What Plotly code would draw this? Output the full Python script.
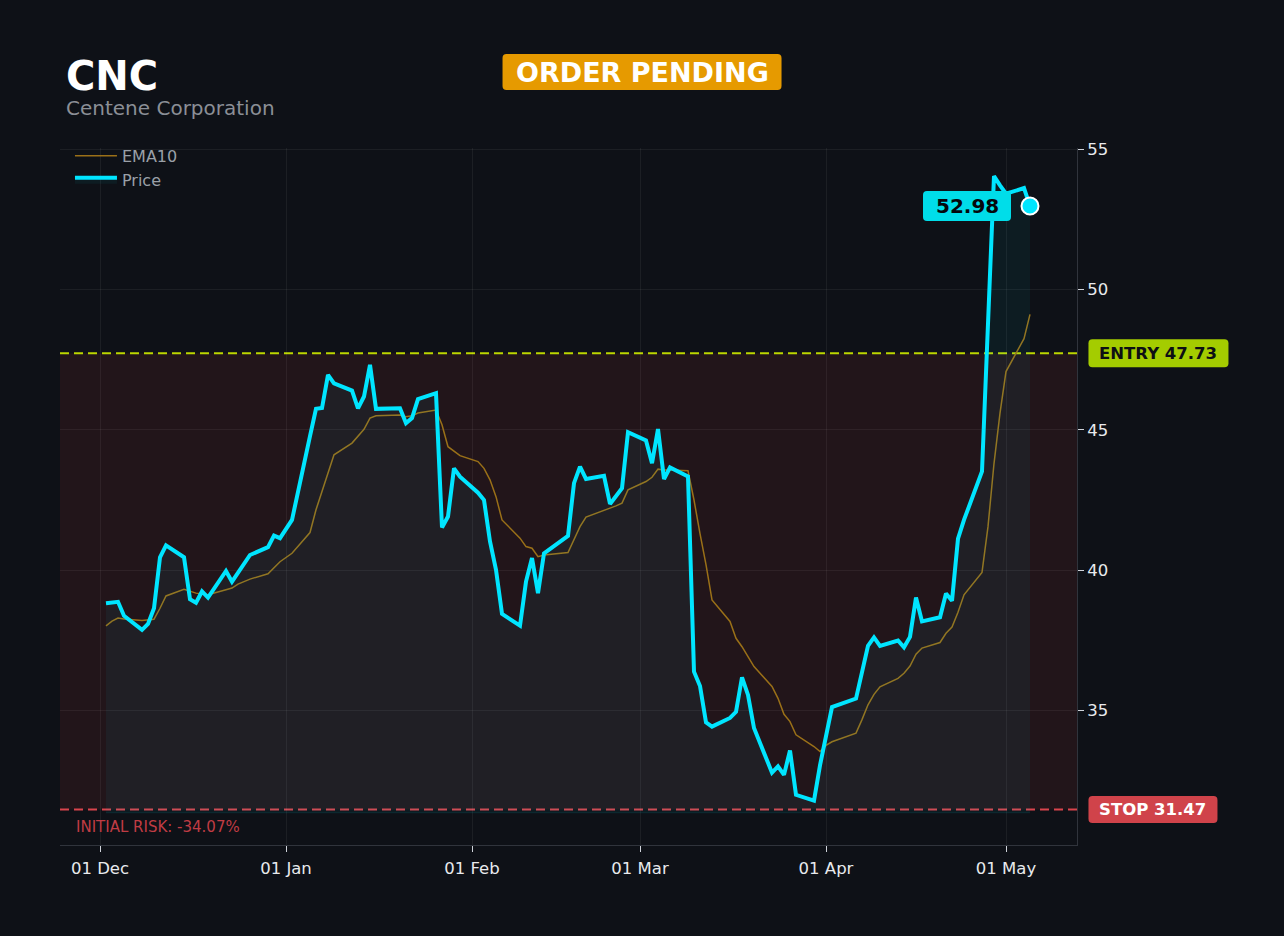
import pandas as pd
import plotly.graph_objects as go

TICKER = "CNC"
COMPANY = "Centene Corporation"
STATUS = "ORDER PENDING"
ENTRY = 47.73
STOP = 31.47
FILL_FLOOR = 31.35

# NYSE closures inside the window
HOLIDAYS = ["2025-12-25", "2026-01-01", "2026-01-19", "2026-02-16", "2026-04-03"]
dates = pd.bdate_range("2025-12-02", "2026-05-05", freq="C", holidays=HOLIDAYS)

price = [
    # Dec
    38.82, 38.83, 38.87, 38.37, 37.87, 38.08, 38.64, 40.46, 40.88, 40.46,
    38.96, 38.84, 39.24, 39.02, 39.97, 39.59, 39.90, 40.54, 40.82, 41.23, 41.14,
    # Jan
    41.79, 44.78, 45.75, 45.78, 46.96, 46.66, 46.40, 45.77, 46.19, 47.32,
    45.75, 45.77, 45.24, 45.42, 46.10, 46.31, 41.52, 41.91, 43.63, 43.33,
    # Feb
    42.76, 42.50, 41.02, 40.01, 38.44, 38.02, 39.59, 40.43, 39.18, 40.60,
    41.22, 43.10, 43.69, 43.25, 43.36, 42.36, 42.64, 42.92, 44.92,
    # Mar
    44.62, 43.81, 45.03, 43.25, 43.66, 43.34, 36.38, 35.87, 34.57, 34.42,
    34.73, 34.95, 36.18, 35.55, 34.37, 32.78, 33.00, 32.70, 33.57, 31.99,
    31.78, 33.04,
    # Apr
    34.07, 35.12, 35.42, 36.37, 37.30, 37.60, 37.30, 37.49, 37.25, 37.62,
    39.02, 38.17, 38.32, 39.17, 38.91, 41.12, 41.79, 43.52, 48.80, 54.05, 53.72,
    # May
    53.42, 53.62, 52.98,
]

ema10 = [
    38.01, 38.18, 38.29, 38.26, 38.20, 38.22, 38.25, 38.64, 39.08, 39.32,
    39.25, 39.18, 39.15, 39.12, 39.30, 39.36, 39.50, 39.68, 39.87, 40.07, 40.30,
    40.60, 41.34, 42.15, 42.80, 43.51, 44.11, 44.53, 44.76, 45.02, 45.42,
    45.50, 45.53, 45.47, 45.50, 45.60, 45.71, 45.18, 44.40, 44.23, 44.08,
    43.87, 43.63, 43.22, 42.62, 41.79, 41.14, 40.84, 40.78, 40.48, 40.54,
    40.63, 41.08, 41.55, 41.89, 42.15, 42.21, 42.29, 42.39, 42.86,
    43.16, 43.31, 43.60, 43.57, 43.57, 43.54, 42.50, 41.30, 40.20, 38.94,
    38.17, 37.57, 37.27, 36.92, 36.56, 35.85, 35.43, 34.86, 34.60, 34.13,
    33.71, 33.53,
    33.75, 33.88, 34.19, 34.67, 35.20, 35.57, 35.84, 36.14, 36.32, 36.58,
    37.00, 37.22, 37.42, 37.75, 37.97, 38.50, 39.12, 39.92, 41.55, 43.80, 45.60,
    47.08, 48.25, 49.12,
]

assert len(dates) == len(price) == len(ema10), (len(dates), len(price), len(ema10))

BG = "#0e1117"
CYAN = "#00e5ff"
FONT = "DejaVu Sans, Verdana, sans-serif"
risk_pct = (STOP - ENTRY) / ENTRY * 100


def rounded_box(w, h, r=4, dx=0):
    """Pixel path for a rounded rectangle centred on its anchor (shifted by dx)."""
    x0, x1 = dx - w / 2, dx + w / 2
    y0, y1 = -h / 2, h / 2
    return (f"M {x0 + r},{y0} L {x1 - r},{y0} Q {x1},{y0} {x1},{y0 + r} "
            f"L {x1},{y1 - r} Q {x1},{y1} {x1 - r},{y1} L {x0 + r},{y1} "
            f"Q {x0},{y1} {x0},{y1 - r} L {x0},{y0 + r} Q {x0},{y0} {x0 + r},{y0} Z")


def label(fig, text, color, txt_color, size, xref, x, yref, y, w, h, dx=0):
    fig.add_shape(type="path", xref=xref, yref=yref, xsizemode="pixel", ysizemode="pixel",
                  xanchor=x, yanchor=y, path=rounded_box(w, h, dx=dx),
                  fillcolor=color, line_width=0, layer="above")
    fig.add_annotation(text=f"<b>{text}</b>", xref=xref, yref=yref, x=x, y=y, xshift=dx,
                       xanchor="center", yanchor="middle", showarrow=False,
                       font=dict(size=size, color=txt_color))


fig = go.Figure()
fig.add_trace(go.Scatter(
    x=dates, y=ema10, mode="lines", name="EMA10", legendgroup="ema",
    line=dict(color="#9a7018", width=1.5), hoverinfo="skip",
))
fig.add_trace(go.Scatter(
    x=dates, y=[FILL_FLOOR] * len(dates), mode="lines", showlegend=False,
    line=dict(color="rgba(0,229,255,0.10)", width=1), hoverinfo="skip",
))
fig.add_trace(go.Scatter(
    x=dates, y=price, mode="lines", name="Price", legendgroup="price",
    line=dict(color=CYAN, width=4),
    fill="tonexty", fillcolor="rgba(0,229,255,0.05)",
))
fig.add_trace(go.Scatter(
    x=[dates[-1]], y=[price[-1]], mode="markers", showlegend=False,
    marker=dict(size=17, color=CYAN, line=dict(color="white", width=2)),
))

# risk zone and levels
fig.add_shape(type="rect", xref="paper", x0=0, x1=1, yref="y", y0=STOP, y1=ENTRY,
              fillcolor="rgba(239,68,68,0.09)", line_width=0, layer="between")
fig.add_shape(type="line", xref="paper", x0=0, x1=1, yref="y", y0=ENTRY, y1=ENTRY,
              line=dict(color="#bcd600", width=2, dash="9px,5px"), layer="between")
fig.add_shape(type="line", xref="paper", x0=0, x1=1, yref="y", y0=STOP, y1=STOP,
              line=dict(color="#d9454d", width=2, dash="9px,5px"), layer="between")

# header
fig.add_annotation(text=f"<b>{TICKER}</b>", xref="paper", yref="paper", x=0.0039, y=1.103,
                   xanchor="left", yanchor="middle", showarrow=False,
                   font=dict(size=40, color="white"))
fig.add_annotation(text=COMPANY, xref="paper", yref="paper", x=0.0039, y=1.058,
                   xanchor="left", yanchor="middle", showarrow=False,
                   font=dict(size=20, color="#8b8f96"))
label(fig, STATUS, "#e69a00", "white", 27, "paper", 0.5723, "paper", 1.109, 279, 36)

# level tags
label(fig, f"ENTRY {ENTRY:.2f}", "#a4cc00", "#0d0f14", 16.5, "paper", 1.0801, "y", ENTRY, 140, 28)
label(fig, f"STOP {STOP:.2f}", "#d0434a", "white", 16.5, "paper", 1.0747, "y", STOP, 129, 27)
label(fig, f"{price[-1]:.2f}", "#00dde9", "#05080c", 20, "x", dates[-1], "y", price[-1], 88, 30, dx=-63)

fig.add_annotation(text=f"INITIAL RISK: {risk_pct:.2f}%", xref="paper", yref="y", x=0.0138, y=STOP,
                   xanchor="left", yanchor="middle", yshift=-18, showarrow=False,
                   font=dict(size=15, color="#c03c44"))

axis_style = dict(
    showgrid=True, gridcolor="rgba(255,255,255,0.06)", zeroline=False,
    showline=True, linecolor="#30343c", linewidth=1,
    ticks="outside", ticklen=6, tickcolor="#cfd3da",
    tickfont=dict(size=16.5, color="#e8eaed"),
)

fig.update_layout(
    width=1284, height=936,
    margin=dict(l=60, r=207, t=148, b=91),
    paper_bgcolor=BG, plot_bgcolor=BG,
    font=dict(family=FONT, color="#e8eaed"),
    showlegend=True,
    legend=dict(x=0.0098, y=1.013, xanchor="left", yanchor="top", traceorder="normal",
                tracegroupgap=5, itemwidth=42, bgcolor="rgba(0,0,0,0)",
                font=dict(size=16, color="#9aa0a8")),
    xaxis=dict(type="date", range=["2025-11-24 08:00", "2026-05-12 20:00"],
               tickformat="%d %b", dtick="M1", tick0="2025-12-01",
               ticklabelstandoff=2, **axis_style),
    yaxis=dict(side="right", range=[30.2, 55.05], dtick=5, tick0=0, **axis_style),
)

fig.write_html(
    "out.html",
    config={"displayModeBar": False},
    post_script="document.body.style.margin='0';document.body.style.backgroundColor='#0e1117';",
)
